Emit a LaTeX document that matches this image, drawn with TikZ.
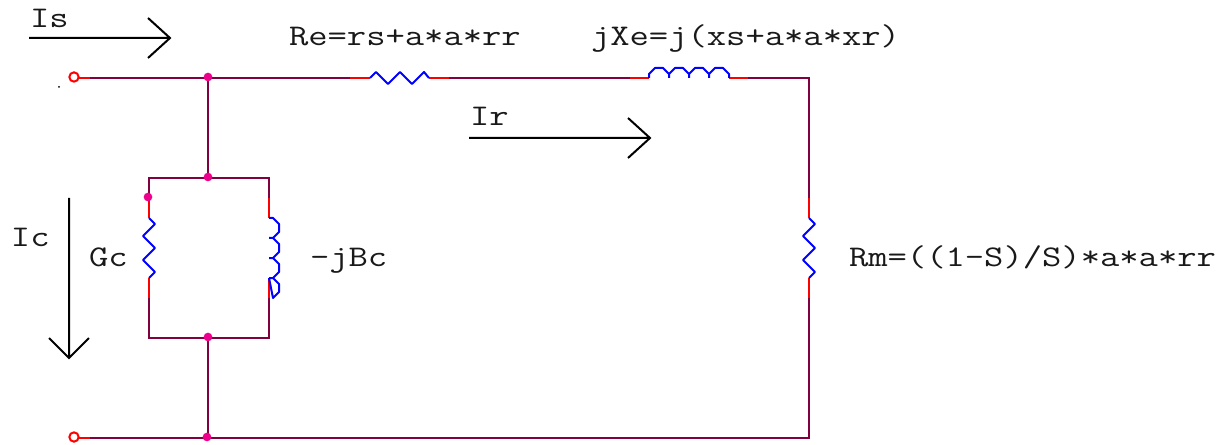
\documentclass[tikz,border=0pt]{standalone}
\usepackage{fontspec}
\setmonofont[FakeStretch=1.25]{Latin Modern Mono}
\definecolor{wirec}{RGB}{128,0,64}
\tikzset{
 wire/.style={draw=wirec,line width=1.5pt,line cap=rect,line join=miter},
 lead/.style={draw=red,line width=1.5pt},
 coil/.style={draw=blue,line width=1.5pt,line join=round},
 flow/.style={draw=black,line width=1.5pt},
 lab/.style={anchor=base west,inner sep=0pt,outer sep=0pt,font=\ttfamily\fontsize{22.5pt}{24pt}\selectfont,text=black!90},
 junc/.style={circle,fill=magenta,inner sep=0pt,minimum size=6.5pt},
 term/.style={circle,draw=red,fill=white,line width=1.5pt,inner sep=0pt,minimum size=7pt}
}
\begin{document}
\begin{tikzpicture}[x=0.75pt,y=-0.75pt]
\useasboundingbox (0,0) rectangle (1230,445);
% corners and lead ends
\foreach \n/\x/\y in {a1/90/78,a2/350/78,a3/370/78,a4/429/78,a5/449/78,b1/630/78,b2/649/78,b3/729/78,b4/748/78,tr/809/78,
 r1/809/198,r2/809/218,r3/809/278,r4/809/298,br/809/438,c0/90/438,
 g0/149/178,g1/149/198,g2/149/218,g3/149/278,g4/149/298,g5/149/338,
 h0/269/178,h1/269/198,h2/269/218,h3/269/278,h4/269/298,h5/269/338,
 is1/29/38,is2/170/38,is3/148/18,is4/148/58,ir1/469/138,ir2/650/138,ir3/628/118,ir4/628/158,ic1/69/198,ic2/69/358,ic3/49/338,ic4/89/338,
 s1/79/78,s2/79/438,m1/208/78,m2/208/178,m3/208/338,m4/208/438}
 {\coordinate (\n) at (\x,\y);}
% wires
\draw[wire] (a1) -- (a2) (a5) -- (b1) (b4) -- (tr) -- (r1) (r4) -- (br) -- (c0);
\draw[wire] (m1) -- (m2) (m3) -- (m4);
\draw[wire] (g1) -- (g0) -- (h0) -- (h1) (g4) -- (g5) -- (h5) -- (h4);
% leads
\draw[lead] (s1) -- (a1) (s2) -- (c0) (a2) -- (a3) (a4) -- (a5) (b1) -- (b2) (b3) -- (b4)
 (r1) -- (r2) (r3) -- (r4) (g1) -- (g2) (g3) -- (g4) (h1) -- (h2) (h3) -- (h4);
% resistors
\draw[coil] (a3) -- ++(6,-6) -- ++(12,12) -- ++(12,-12) -- ++(12,12) -- ++(12,-12) -- (a4);
\draw[coil] (r2) -- ++(6,6) -- ++(-12,12) -- ++(12,12) -- ++(-12,12) -- ++(12,12) -- (r3);
\draw[coil] (g2) -- ++(6,6) -- ++(-12,12) -- ++(12,12) -- ++(-12,12) -- ++(12,12) -- (g3);
% inductors
\draw[coil] (b2) -- ++(0,-4) -- ++(6,-6) -- ++(8,0) -- ++(6,6) -- ++(0,4) ++(0,-4)
 -- ++(6,-6) -- ++(8,0) -- ++(6,6) -- ++(0,4) ++(0,-4)
 -- ++(6,-6) -- ++(8,0) -- ++(6,6) -- ++(0,4) ++(0,-4)
 -- ++(6,-6) -- ++(8,0) -- ++(6,6) -- (b3);
\draw[coil] (h2) -- ++(4,0) -- ++(6,6) -- ++(0,8) -- ++(-6,6) -- ++(-4,0) ++(4,0)
 -- ++(6,6) -- ++(0,8) -- ++(-6,6) -- ++(-4,0) ++(4,0)
 -- ++(6,6) -- ++(0,8) -- ++(-6,6) -- ++(-4,0) ++(4,0)
 -- ++(6,6) -- ++(0,8) -- ++(-6,6) -- (h3);
% current arrows
\draw[flow] (is1) -- (is2) (is3) -- (is2) -- (is4);
\draw[flow] (ir1) -- (ir2) (ir3) -- (ir2) -- (ir4);
\draw[flow] (ic1) -- (ic2) (ic3) -- (ic2) -- (ic4);
% terminals and junctions
\node[term] (t1) at (74,77) {};
\node[term] (t2) at (74,437) {};
\node[junc] (j1) at (208,77) {};
\node[junc] (j2) at (208,177) {};
\node[junc] (j3) at (148,197) {};
\node[junc] (j4) at (208,337) {};
\node[junc] (j5) at (207,437) {};
\node[circle,fill=black,inner sep=0pt,minimum size=1.5pt] (speck) at (59,87) {};
% labels
\node[lab] (lis) at (30,28) {Is};
\node[lab] (lre) at (289,46) {Re=rs+a*a*rr};
\node[lab] (lxe) at (591,46) {jXe=j(xs+a*a*xr)};
\node[lab] (lir) at (470,126) {Ir};
\node[lab] (lic) at (11,247) {Ic};
\node[lab] (lgc) at (89,267) {Gc};
\node[lab] (lbc) at (310,267) {-jBc};
\node[lab] (lrm) at (849,267) {Rm=((1-S)/S)*a*a*rr};
\end{tikzpicture}
\end{document}
